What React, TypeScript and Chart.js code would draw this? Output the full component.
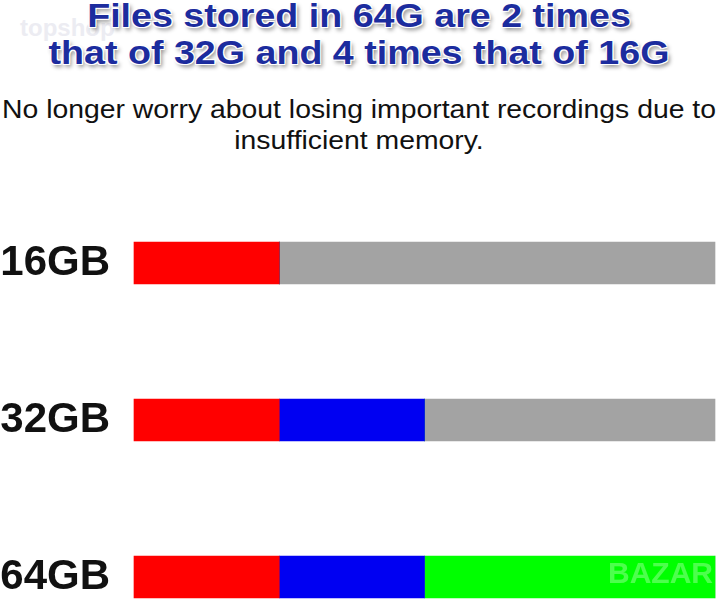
import React, { useEffect, useRef } from "react";
import { Chart, registerables } from "chart.js";

Chart.register(...registerables);

const titleLines = ["Files stored in 64G are 2 times", "that of 32G and 4 times that of 16G"];
const subtitleLines = ["No longer worry about losing important recordings due to", "insufficient memory."];
const categories = ["16GB", "32GB", "64GB"];
const redValues = [1, 1, 1];
const blueValues = [0, 1, 1];
const greenValues = [0, 0, 2];
const grayValues = [3, 2, 0];
const axisMax = 4;

export default function App() {
  const canvasRef = useRef<HTMLCanvasElement | null>(null);

  useEffect(() => {
    document.body.style.margin = "0";
    const canvas = canvasRef.current;
    if (!canvas) return;
    const mk = (data: number[], color: string) => ({
      data,
      backgroundColor: color,
      borderWidth: 0,
      barThickness: 42,
      clip: false as const,
    });
    const chart = new Chart(canvas, {
      type: "bar",
      data: {
        labels: categories,
        datasets: [
          mk(redValues, "#ff0000"),
          mk(blueValues, "#0000f2"),
          mk(greenValues, "#00ff00"),
          mk(grayValues, "#a3a3a3"),
        ],
      },
      options: {
        indexAxis: "y",
        animation: false,
        responsive: false,
        maintainAspectRatio: false,
        layout: { padding: { top: 83, bottom: 23, left: 0, right: 3 } },
        plugins: { legend: { display: false }, title: { display: false }, tooltip: { enabled: false } },
        scales: {
          x: { stacked: true, min: 0, max: axisMax, display: false },
          y: {
            stacked: true,
            offset: false,
            grid: { display: false, drawTicks: false },
            border: { display: false },
            ticks: {
              padding: 24,
              color: "#111111",
              font: { family: "'Liberation Sans', Arial, sans-serif", size: 42, weight: "bold" },
            },
            afterFit: (scale: any) => {
              scale.width = 134;
              scale.paddingTop = 0;
              scale.paddingBottom = 0;
            },
          },
        },
      },
    });
    return () => chart.destroy();
  }, []);

  return (
    <div style={{ position: "relative", width: 718, height: 600, overflow: "hidden", background: "#fff" }}>
      <div
        style={{
          position: "absolute",
          left: 20,
          top: 14,
          fontFamily: "'Liberation Sans', Arial, sans-serif",
          fontWeight: "bold",
          fontSize: 24,
          color: "#ececf2",
        }}
      >
        topshop
      </div>
      <div
        style={{
          position: "absolute",
          left: 0,
          top: -3,
          width: 718,
          textAlign: "center",
          fontFamily: "'Liberation Sans', Arial, sans-serif",
          fontWeight: "bold",
          fontSize: 33,
          lineHeight: "37px",
          color: "#1c2c9e",
          whiteSpace: "nowrap",
          transform: "scaleX(1.14)",
          transformOrigin: "359px 0",
          textShadow:
            "-1px -1px 0 #fff, 1px -1px 0 #fff, -1px 1px 0 #fff, 1px 1px 0 #fff, 2px 3px 4px rgba(0,0,0,0.45)",
        }}
      >
        {titleLines.map((l, i) => (
          <div key={i}>{l}</div>
        ))}
      </div>
      <div
        style={{
          position: "absolute",
          left: 0,
          top: 94,
          width: 718,
          textAlign: "center",
          fontFamily: "'Liberation Sans', Arial, sans-serif",
          fontSize: 26.5,
          lineHeight: "31px",
          color: "#111",
          whiteSpace: "nowrap",
          transform: "scaleX(1.07)",
          transformOrigin: "359px 0",
        }}
      >
        {subtitleLines.map((l, i) => (
          <div key={i}>{l}</div>
        ))}
      </div>
      <canvas
        ref={canvasRef}
        width={718}
        height={420}
        style={{ position: "absolute", left: 0, top: 180, width: 718, height: 420 }}
      />
      <div
        style={{
          position: "absolute",
          left: 608,
          top: 556,
          fontFamily: "'Liberation Sans', Arial, sans-serif",
          fontWeight: "bold",
          fontSize: 30,
          color: "rgba(255,255,255,0.3)",
          pointerEvents: "none",
        }}
      >
        BAZAR
      </div>
    </div>
  );
}
